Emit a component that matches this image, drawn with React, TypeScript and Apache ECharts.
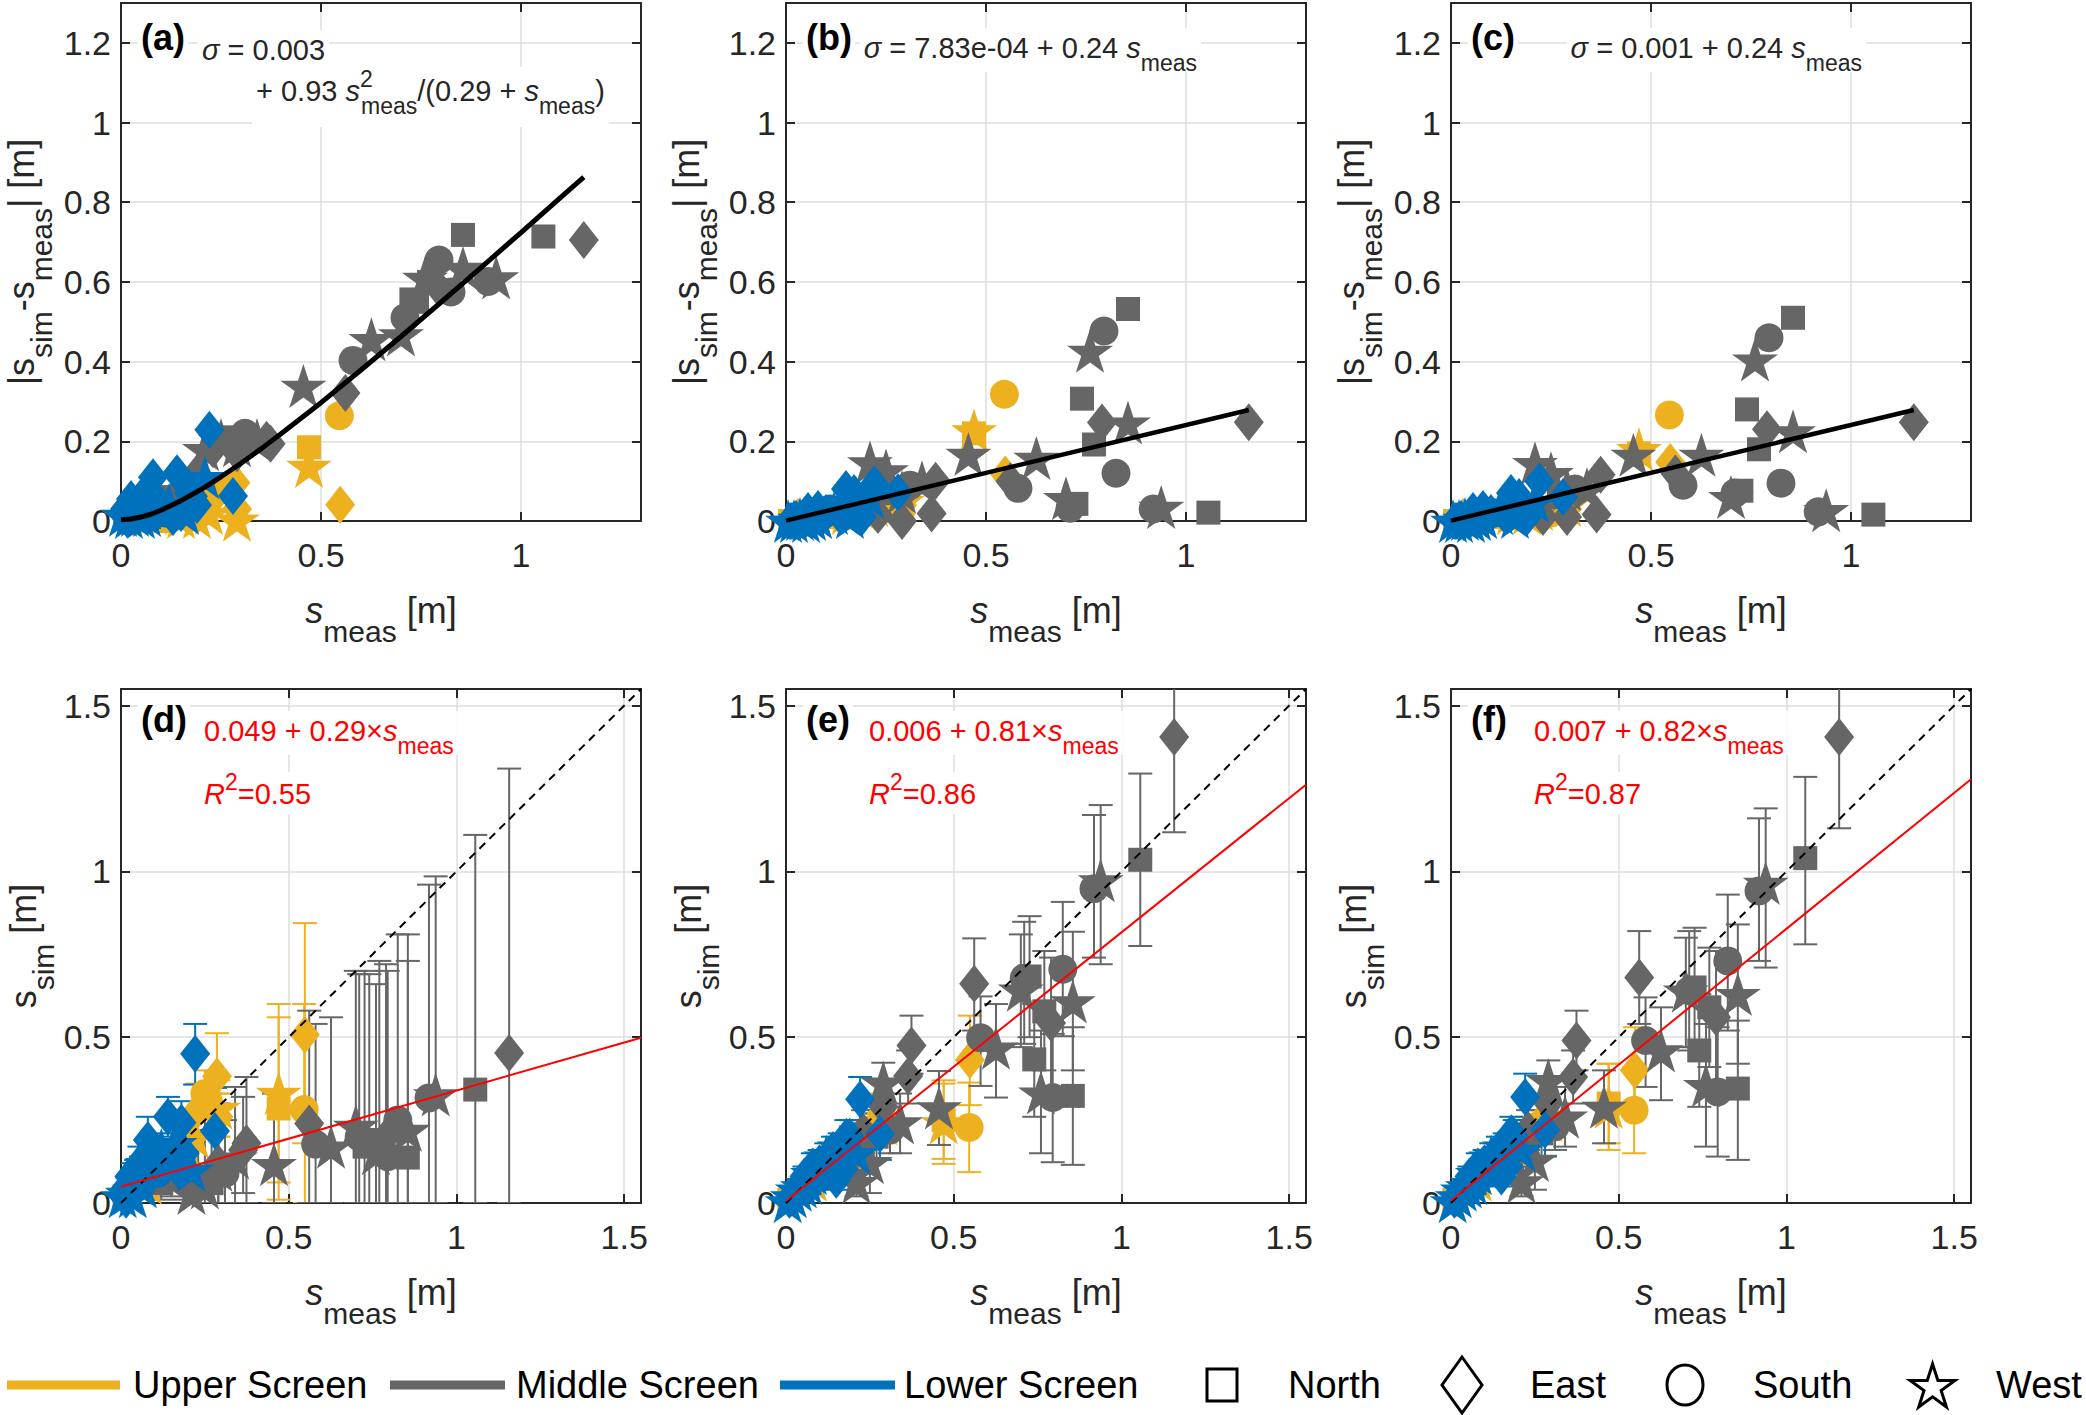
import React, { useEffect, useRef } from 'react';
import * as echarts from 'echarts';

// ---------------- data ----------------
// Station attributes shared by the six panels (U = upper, M = middle, L = lower screen)
const screenOf: string[] = [
  'M','M','M','M','M','M','M','M','M','M',
  'M','M','M','M','M','M','M','M','M','M',
  'M','M','M','M','M','M','M','M','M','M',
  'M','M','U','U','U','U','U','U','U','U',
  'U','U','U','U','U','U','U','U','U','L',
  'L','L','L','L','L','L','L','L','L','L',
  'L','L','L','L','L','L','L','L','L','L',
  'L','L','L','L','L','L','L','L','L',
];
// N = North (square), E = East (diamond), S = South (circle), W = West (star)
const orientOf: string[] = [
  'E','N','S','W','S','W','N','S','W','E',
  'N','N','W','S','N','E','S','W','W','E',
  'E','W','W','W','W','S','N','E','S','N',
  'E','E','E','S','W','N','E','E','W','W',
  'W','E','S','N','S','E','W','N','W','E',
  'E','E','E','E','W','E','W','E','S','W',
  'E','N','W','E','E','S','W','E','E','W',
  'E','E','W','E','E','W','E','E','W',
];
const sMeas: number[] = [
  1.157, 1.056, 0.918, 0.938, 0.825, 0.855, 0.855, 0.795, 0.76, 0.79,
  0.77, 0.74, 0.70, 0.71, 0.726, 0.561, 0.58, 0.626, 0.456, 0.374,
  0.364, 0.34, 0.29, 0.25, 0.21, 0.31, 0.27, 0.23, 0.15, 0.12,
  0.19, 0.29, 0.548, 0.546, 0.47, 0.47, 0.286, 0.226, 0.29, 0.22,
  0.19, 0.29, 0.25, 0.10, 0.05, 0.03, 0.15, 0.01, 0.08, 0.221,
  0.18, 0.28, 0.08, 0.14, 0.21, 0.01, 0.02, 0.03, 0.04, 0.05,
  0.06, 0.07, 0.08, 0.09, 0.10, 0.11, 0.12, 0.13, 0.15, 0.16,
  0.17, 0.19, 0.005, 0.015, 0.025, 0.035, 0.045, 0.055, 0.065,
];
// panels (a)-(c): |s_sim - s_meas|
const absDiffA: number[] = [
  0.705, 0.714, 0.601, 0.611, 0.575, 0.635, 0.718, 0.655, 0.61, 0.59,
  0.60, 0.55, 0.468, 0.51, 0.556, 0.321, 0.403, 0.456, 0.339, 0.194,
  0.204, 0.203, 0.19, 0.203, 0.18, 0.22, 0.21, 0.18, 0.07, 0.06,
  0.12, 0.17, 0.041, 0.264, 0.138, 0.185, 0.096, 0.051, 0.003, 0.02,
  0.01, 0.03, 0.08, 0.00, 0.01, 0.01, 0.01, 0.01, 0.02, 0.229,
  0.062, 0.063, 0.11, 0.12, 0.11, 0.03, 0.01, 0.02, 0.03, 0.01,
  0.04, 0.01, 0.04, 0.02, 0.04, 0.02, 0.04, 0.01, 0.02, 0.02,
  0.07, 0.04, 0.015, 0.005, 0.055, 0.015, 0.045, 0.065, 0.015,
];
const absDiffB: number[] = [
  0.248, 0.021, 0.030, 0.035, 0.120, 0.247, 0.532, 0.477, 0.427, 0.247,
  0.192, 0.307, 0.057, 0.032, 0.043, 0.100, 0.082, 0.158, 0.168, 0.101,
  0.019, 0.097, 0.073, 0.127, 0.147, 0.09, 0.07, 0.015, 0.02, 0.02,
  0.02, 0.00, 0.117, 0.318, 0.227, 0.22, 0.016, 0.026, 0.05, 0.04,
  0.03, 0.04, 0.03, 0.01, 0.00, 0.01, 0.02, 0.00, 0.01, 0.092,
  0.02, 0.072, 0.03, 0.02, 0.06, 0.00, 0.00, 0.00, 0.00, 0.00,
  0.01, 0.01, 0.01, 0.01, 0.02, 0.03, 0.02, 0.02, 0.08, 0.01,
  0.07, 0.01, 0.00, 0.00, 0.005, 0.005, 0.005, 0.025, 0.005,
];
const absDiffC: number[] = [
  0.248, 0.016, 0.023, 0.027, 0.095, 0.225, 0.51, 0.46, 0.405, 0.23,
  0.18, 0.28, 0.06, 0.07, 0.076, 0.119, 0.09, 0.166, 0.166, 0.116,
  0.016, 0.08, 0.08, 0.12, 0.145, 0.08, 0.06, 0.01, 0.02, 0.02,
  0.02, 0.01, 0.148, 0.266, 0.18, 0.17, 0.016, 0.016, 0.04, 0.03,
  0.02, 0.03, 0.02, 0.01, 0.00, 0.01, 0.02, 0.00, 0.01, 0.099,
  0.03, 0.06, 0.03, 0.02, 0.05, 0.00, 0.00, 0.00, 0.00, 0.00,
  0.01, 0.01, 0.01, 0.01, 0.02, 0.02, 0.02, 0.02, 0.07, 0.01,
  0.06, 0.01, 0.00, 0.00, 0.005, 0.005, 0.005, 0.025, 0.005,
];
// panels (d)-(f): s_sim with error bar limits
const simD: number[] = [
  0.452, 0.342, 0.317, 0.327, 0.25, 0.22, 0.137, 0.14, 0.15, 0.20,
  0.17, 0.19, 0.232, 0.20, 0.17, 0.24, 0.177, 0.17, 0.117, 0.18,
  0.16, 0.137, 0.10, 0.047, 0.03, 0.09, 0.06, 0.05, 0.08, 0.06,
  0.07, 0.12, 0.507, 0.282, 0.332, 0.285, 0.382, 0.277, 0.287, 0.20,
  0.18, 0.26, 0.33, 0.10, 0.06, 0.04, 0.14, 0.02, 0.06, 0.45,
  0.242, 0.217, 0.19, 0.26, 0.10, 0.04, 0.03, 0.05, 0.07, 0.06,
  0.10, 0.08, 0.12, 0.11, 0.14, 0.09, 0.16, 0.12, 0.13, 0.18,
  0.10, 0.15, 0.02, 0.01, 0.08, 0.02, 0.09, 0.12, 0.05,
];
const simDLow: number[] = [
  0, 0, 0, 0, 0, 0, 0, 0, 0, 0,
  0, 0, 0, 0, 0, 0, 0, 0, 0, 0,
  0.03, 0, 0, 0, 0, 0, 0, 0, 0.02, 0.01,
  0.01, 0, 0, 0.18, 0.01, 0.062, 0.33, 0.20, 0.20, 0.12,
  0.12, 0.20, 0.26, 0.06, 0.03, 0.02, 0.09, 0, 0.03, 0.357,
  0.18, 0.09, 0.12, 0.20, 0.04, 0.02, 0.01, 0.02, 0.04, 0.03,
  0.06, 0.05, 0.08, 0.07, 0.09, 0.05, 0.11, 0.08, 0.08, 0.12,
  0.05, 0.10, 0, 0, 0.04, 0, 0.05, 0.07, 0.02,
];
const simDHigh: number[] = [
  1.31, 1.11, 0.96, 0.985, 0.81, 0.81, 0.73, 0.70, 0.66, 0.72,
  0.73, 0.69, 0.70, 0.69, 0.70, 0.58, 0.54, 0.56, 0.33, 0.38,
  0.32, 0.35, 0.29, 0.29, 0.20, 0.25, 0.22, 0.20, 0.16, 0.12,
  0.15, 0.30, 0.844, 0.60, 0.60, 0.56, 0.512, 0.36, 0.37, 0.28,
  0.24, 0.33, 0.40, 0.14, 0.09, 0.06, 0.19, 0.04, 0.09, 0.54,
  0.307, 0.347, 0.26, 0.32, 0.16, 0.06, 0.05, 0.08, 0.10, 0.09,
  0.14, 0.11, 0.16, 0.15, 0.19, 0.13, 0.21, 0.16, 0.18, 0.24,
  0.15, 0.20, 0.04, 0.03, 0.12, 0.04, 0.13, 0.17, 0.08,
];
const simE: number[] = [
  1.405, 1.035, 0.948, 0.973, 0.705, 0.608, 0.323, 0.318, 0.333, 0.543,
  0.578, 0.433, 0.643, 0.678, 0.683, 0.661, 0.498, 0.468, 0.288, 0.475,
  0.383, 0.243, 0.363, 0.123, 0.063, 0.22, 0.20, 0.215, 0.13, 0.10,
  0.17, 0.29, 0.431, 0.228, 0.243, 0.25, 0.27, 0.20, 0.24, 0.18,
  0.16, 0.25, 0.22, 0.09, 0.05, 0.02, 0.13, 0.01, 0.07, 0.313,
  0.20, 0.208, 0.11, 0.16, 0.15, 0.01, 0.02, 0.03, 0.04, 0.05,
  0.07, 0.06, 0.09, 0.10, 0.12, 0.08, 0.14, 0.11, 0.07, 0.17,
  0.10, 0.20, 0.005, 0.015, 0.03, 0.04, 0.05, 0.08, 0.06,
];
const simELow: number[] = [
  1.118, 0.775, 0.74, 0.72, 0.503, 0.40, 0.115, 0.123, 0.15, 0.35,
  0.40, 0.26, 0.47, 0.48, 0.50, 0.52, 0.353, 0.318, 0.175, 0.39,
  0.30, 0.15, 0.29, 0.03, 0.02, 0.15, 0.13, 0.15, 0.08, 0.06,
  0.12, 0.22, 0.295, 0.093, 0.118, 0.133, 0.21, 0.15, 0.18, 0.13,
  0.12, 0.20, 0.17, 0.06, 0.03, 0.01, 0.09, 0, 0.04, 0.24,
  0.15, 0.13, 0.07, 0.12, 0.10, 0, 0, 0.01, 0.02, 0.03,
  0.04, 0.04, 0.06, 0.07, 0.08, 0.05, 0.10, 0.08, 0.04, 0.13,
  0.06, 0.15, 0, 0, 0.01, 0.02, 0.03, 0.05, 0.04,
];
const simEHigh: number[] = [
  1.70, 1.295, 1.17, 1.20, 0.908, 0.818, 0.53, 0.51, 0.52, 0.74,
  0.76, 0.60, 0.81, 0.848, 0.865, 0.798, 0.623, 0.60, 0.398, 0.565,
  0.46, 0.33, 0.423, 0.20, 0.12, 0.29, 0.27, 0.28, 0.18, 0.14,
  0.22, 0.36, 0.565, 0.363, 0.37, 0.36, 0.33, 0.25, 0.30, 0.23,
  0.20, 0.30, 0.27, 0.12, 0.07, 0.03, 0.17, 0.02, 0.10, 0.38,
  0.25, 0.28, 0.15, 0.20, 0.20, 0.02, 0.04, 0.05, 0.06, 0.07,
  0.10, 0.08, 0.12, 0.13, 0.16, 0.11, 0.18, 0.14, 0.10, 0.21,
  0.14, 0.25, 0.01, 0.03, 0.05, 0.06, 0.07, 0.11, 0.08,
];
const simF: number[] = [
  1.405, 1.04, 0.941, 0.965, 0.73, 0.63, 0.345, 0.335, 0.355, 0.56,
  0.59, 0.46, 0.64, 0.64, 0.65, 0.68, 0.49, 0.46, 0.29, 0.49,
  0.38, 0.26, 0.37, 0.13, 0.065, 0.23, 0.21, 0.22, 0.13, 0.10,
  0.17, 0.30, 0.40, 0.28, 0.29, 0.30, 0.27, 0.21, 0.25, 0.19,
  0.17, 0.26, 0.23, 0.09, 0.05, 0.02, 0.13, 0.01, 0.07, 0.32,
  0.21, 0.22, 0.11, 0.16, 0.16, 0.01, 0.02, 0.03, 0.04, 0.05,
  0.07, 0.06, 0.09, 0.10, 0.12, 0.09, 0.14, 0.11, 0.08, 0.17,
  0.11, 0.20, 0.005, 0.015, 0.03, 0.04, 0.05, 0.08, 0.06,
];
const simFLow: number[] = [
  1.13, 0.78, 0.73, 0.71, 0.52, 0.42, 0.13, 0.14, 0.17, 0.36,
  0.41, 0.29, 0.47, 0.46, 0.47, 0.54, 0.35, 0.31, 0.18, 0.40,
  0.30, 0.17, 0.30, 0.04, 0.02, 0.16, 0.14, 0.16, 0.08, 0.06,
  0.12, 0.23, 0.27, 0.15, 0.16, 0.18, 0.21, 0.16, 0.19, 0.14,
  0.13, 0.21, 0.18, 0.06, 0.03, 0.01, 0.09, 0, 0.04, 0.25,
  0.16, 0.14, 0.07, 0.12, 0.11, 0, 0, 0.01, 0.02, 0.03,
  0.04, 0.04, 0.06, 0.07, 0.08, 0.06, 0.10, 0.08, 0.05, 0.13,
  0.07, 0.15, 0, 0, 0.01, 0.02, 0.03, 0.05, 0.04,
];
const simFHigh: number[] = [
  1.70, 1.285, 1.16, 1.19, 0.93, 0.84, 0.55, 0.53, 0.54, 0.76,
  0.77, 0.63, 0.80, 0.82, 0.83, 0.82, 0.62, 0.59, 0.40, 0.58,
  0.46, 0.35, 0.43, 0.21, 0.12, 0.30, 0.28, 0.28, 0.18, 0.14,
  0.22, 0.37, 0.53, 0.41, 0.42, 0.42, 0.33, 0.26, 0.31, 0.24,
  0.21, 0.31, 0.28, 0.12, 0.07, 0.03, 0.17, 0.02, 0.10, 0.39,
  0.26, 0.30, 0.15, 0.20, 0.21, 0.02, 0.04, 0.05, 0.06, 0.07,
  0.10, 0.08, 0.12, 0.13, 0.16, 0.12, 0.18, 0.14, 0.11, 0.21,
  0.15, 0.25, 0.01, 0.03, 0.05, 0.06, 0.07, 0.11, 0.08,
];
// fitted curves / lines
const curveAX: number[] = [0, 0.025, 0.05, 0.075, 0.1, 0.15, 0.2, 0.25, 0.3, 0.35, 0.4, 0.45, 0.5, 0.6, 0.7, 0.8, 0.9, 1.0, 1.1, 1.157];
const curveAY: number[] = [0.003, 0.005, 0.010, 0.017, 0.027, 0.051, 0.079, 0.111, 0.145, 0.181, 0.219, 0.258, 0.297, 0.379, 0.463, 0.549, 0.636, 0.724, 0.813, 0.863];
const lineB: number[][] = [[0, 0.0008], [1.157, 0.2785]];
const lineC: number[][] = [[0, 0.001], [1.157, 0.2787]];
const fitD: number[][] = [[0, 0.049], [1.55, 0.4985]];
const fitE: number[][] = [[0, 0.006], [1.55, 1.2615]];
const fitF: number[][] = [[0, 0.007], [1.55, 1.278]];
const oneToOne: number[][] = [[0, 0], [1.55, 1.55]];
// texts
const panelLabels = ['(a)', '(b)', '(c)', '(d)', '(e)', '(f)'];
const sigmaTexts = [
  ['{g|σ} = 0.003', '+ 0.93 {i|s}{supz|2}{sub|meas}/(0.29 + {i|s}{sub|meas})'],
  ['{g|σ} = 7.83e-04 + 0.24 {i|s}{sub|meas}'],
  ['{g|σ} = 0.001 + 0.24 {i|s}{sub|meas}'],
];
const fitTexts = ['0.049 + 0.29×{i|s}{sub|meas}', '0.006 + 0.81×{i|s}{sub|meas}', '0.007 + 0.82×{i|s}{sub|meas}'];
const r2Texts = ['{i|R}{sup|2}=0.55', '{i|R}{sup|2}=0.86', '{i|R}{sup|2}=0.87'];
const screenNames = ['Upper Screen', 'Middle Screen', 'Lower Screen'];
const orientNames = ['North', 'East', 'South', 'West'];

// ---------------- styling ----------------
const FONT = '"Liberation Sans", Arial, Helvetica, sans-serif';
const AXIS_COLOR = '#262626';
const GRID_COLOR = '#dedede';
const RED = '#ff0000';
const COLORS: Record<string, string> = { U: '#EDB120', M: '#666666', L: '#0072BD' };
const STAR_PTS = [[50, 0], [61.23, 34.55], [97.55, 34.55], [68.16, 55.9], [79.39, 90.45], [50, 69.1], [20.61, 90.45], [31.84, 55.9], [2.45, 34.55], [38.77, 34.55]];
const STAR_PATH = 'path://' + STAR_PTS.map((p, k) => (k ? 'L' : 'M') + p[0] + ' ' + p[1]).join('') + 'Z';
const SYMBOLS: Record<string, string> = { N: 'rect', E: 'diamond', S: 'circle', W: STAR_PATH };
const SIZES: Record<string, number[]> = { N: [24, 24], E: [30, 38], S: [29, 29], W: [46, 44] };
const LEFTS = [121, 786, 1451];
const PW = 520;
const TOPS = [3, 689];
const HEIGHTS = [518, 514];
const AXMAX = [1.3, 1.55];
const YSTEP = [0.2, 0.5];

function fmt(step: number) {
  return (v: number) => {
    const k = v / step;
    return Math.abs(k - Math.round(k)) < 1e-6 ? String(Number(v.toFixed(2))) : '';
  };
}

function richSet(size: number, sub: number, fill: string, subShiftH: number, supH: number) {
  return {
    i: { fontStyle: 'italic', fontSize: size, fontFamily: FONT, fill },
    g: { fontStyle: 'italic', fontSize: size, fontFamily: FONT, fill },
    sub: { fontSize: sub, fontFamily: FONT, fill, verticalAlign: 'bottom', height: subShiftH },
    sup: { fontSize: sub, fontFamily: FONT, fill, verticalAlign: 'top', height: supH },
    supz: { fontSize: sub, fontFamily: FONT, fill, verticalAlign: 'top', height: supH, width: 1 },
  };
}

function errRender(color: string) {
  return (params: any, api: any) => {
    const x = api.value(0);
    const p1 = api.coord([x, api.value(1)]);
    const p2 = api.coord([x, api.value(2)]);
    const cw = 12;
    const st = { stroke: color, lineWidth: 2 };
    return {
      type: 'group',
      children: [
        { type: 'line', shape: { x1: p1[0], y1: p1[1], x2: p2[0], y2: p2[1] }, style: st },
        { type: 'line', shape: { x1: p1[0] - cw, y1: p1[1], x2: p1[0] + cw, y2: p1[1] }, style: st },
        { type: 'line', shape: { x1: p2[0] - cw, y1: p2[1], x2: p2[0] + cw, y2: p2[1] }, style: st },
      ],
    };
  };
}

function buildOption() {
  const panels = [
    { y: absDiffA }, { y: absDiffB }, { y: absDiffC },
    { y: simD, lo: simDLow, hi: simDHigh }, { y: simE, lo: simELow, hi: simEHigh }, { y: simF, lo: simFLow, hi: simFHigh },
  ] as { y: number[]; lo?: number[]; hi?: number[] }[];
  const grid: any[] = [], xAxis: any[] = [], yAxis: any[] = [], series: any[] = [], graphic: any[] = [];
  const line = (w: number) => ({ show: true, onZero: false, lineStyle: { color: AXIS_COLOR, width: w } });
  const tick = { show: true, inside: true, length: 9, lineStyle: { color: AXIS_COLOR, width: 2 } };
  const labelStyle = { fontSize: 34, fontFamily: FONT, color: AXIS_COLOR };

  panels.forEach((p, i) => {
    const row = i < 3 ? 0 : 1;
    const col = i % 3;
    const left = LEFTS[col];
    const top = TOPS[row];
    const mx = AXMAX[row];
    grid.push({ left, top, width: PW, height: HEIGHTS[row], containLabel: false, show: false });
    const base = { type: 'value', gridIndex: i, min: 0, max: mx };
    xAxis.push({ ...base, interval: 0.5, position: 'bottom', axisLine: line(2), axisTick: tick,
      axisLabel: { ...labelStyle, margin: 17, formatter: fmt(0.5) },
      splitLine: { show: true, lineStyle: { color: GRID_COLOR, width: 1.5 } } });
    xAxis.push({ ...base, interval: 0.5, position: 'top', axisLine: line(2), axisTick: tick,
      axisLabel: { show: false }, splitLine: { show: false } });
    yAxis.push({ ...base, interval: YSTEP[row], position: 'left', axisLine: line(2), axisTick: tick,
      axisLabel: { ...labelStyle, margin: 10, formatter: fmt(YSTEP[row]) },
      splitLine: { show: true, lineStyle: { color: GRID_COLOR, width: 1.5 } } });
    yAxis.push({ ...base, interval: YSTEP[row], position: 'right', axisLine: line(2), axisTick: tick,
      axisLabel: { show: false }, splitLine: { show: false } });
    const xi = 2 * i, yi = 2 * i;
    const idx = sMeas.map((_, k) => k);
    ['U', 'M', 'L'].forEach((scr) => {
      if (p.lo && p.hi) {
        series.push({
          type: 'custom', name: panelLabels[i] + ' ' + scr + ' error', xAxisIndex: xi, yAxisIndex: yi,
          clip: true, z: 2, silent: true,
          encode: { x: 0, y: [1, 2] },
          data: idx.filter((k) => screenOf[k] === scr).map((k) => [sMeas[k], p.lo![k], p.hi![k]]),
          renderItem: errRender(COLORS[scr]),
        });
      }
    });
    ['U', 'M', 'L'].forEach((scr) => {
      ['N', 'E', 'S', 'W'].forEach((ori) => {
        const data = idx.filter((k) => screenOf[k] === scr && orientOf[k] === ori).map((k) => [sMeas[k], p.y[k]]);
        if (!data.length) return;
        series.push({
          type: 'scatter', name: panelLabels[i] + ' ' + scr + ori, xAxisIndex: xi, yAxisIndex: yi,
          symbol: SYMBOLS[ori], symbolSize: SIZES[ori], itemStyle: { color: COLORS[scr], opacity: 1 },
          clip: false, z: 3, silent: true, data,
        });
      });
    });
    const addLine = (data: number[][], color: string, width: number, type: any = 'solid') =>
      series.push({ type: 'line', xAxisIndex: xi, yAxisIndex: yi, data, symbol: 'none', showSymbol: false,
        lineStyle: { color, width, type }, z: 4, silent: true, clip: true });
    if (i === 0) addLine(curveAX.map((x, k) => [x, curveAY[k]]), '#000', 5);
    if (i === 1) addLine(lineB, '#000', 4.5);
    if (i === 2) addLine(lineC, '#000', 4.5);
    if (i >= 3) {
      addLine(oneToOne, '#000', 2, [8, 6]);
      addLine([fitD, fitE, fitF][i - 3], RED, 2);
    }

    // panel label
    graphic.push({ type: 'text', z: 100, x: left + 17, y: top + (row ? 30 : 34),
      style: { text: panelLabels[i], fontSize: 36, fontWeight: 'bold', fontFamily: FONT, fill: '#000',
        align: 'left', verticalAlign: 'middle', backgroundColor: '#fff', padding: [1, 3] } });
    // x title
    graphic.push({ type: 'text', z: 100, x: left + PW / 2, y: top + HEIGHTS[row] + 89,
      style: { text: '{i|s}{sub|meas} [m]', fontSize: 36, fontFamily: FONT, fill: AXIS_COLOR, lineHeight: 44,
        align: 'center', verticalAlign: 'middle', rich: richSet(36, 30, AXIS_COLOR, 2, 8) } });
    // y title
    graphic.push({ type: 'text', z: 100, x: left - 121 + (row ? 23 : 21), y: top + HEIGHTS[row] / 2, rotation: Math.PI / 2,
      style: { text: row ? 's{sub|sim} [m]' : '|s{sub|sim}-s{sub|meas}| [m]', fontSize: 36, fontFamily: FONT, fill: AXIS_COLOR,
        lineHeight: 40, align: 'center', verticalAlign: 'middle', rich: richSet(36, 30, AXIS_COLOR, 0, 8) } });

    if (row === 0) {
      const lines = sigmaTexts[col];
      if (col === 0) {
        graphic.push({ type: 'text', z: 100, x: left + 77, y: 50,
          style: { text: lines[0], fontSize: 29, fontFamily: FONT, fill: AXIS_COLOR, lineHeight: 36, align: 'left', verticalAlign: 'middle',
            backgroundColor: '#fff', padding: [2, 4], rich: richSet(29, 23, AXIS_COLOR, 6, 12) } });
        graphic.push({ type: 'text', z: 100, x: left + 131, y: 97,
          style: { text: lines[1], fontSize: 29, fontFamily: FONT, fill: AXIS_COLOR, lineHeight: 36, align: 'left', verticalAlign: 'middle',
            backgroundColor: '#fff', padding: [6, 4, 18, 4], rich: richSet(29, 23, AXIS_COLOR, 6, 12) } });
      } else {
        graphic.push({ type: 'text', z: 100, x: left + 415, y: 50,
          style: { text: lines[0], fontSize: 29, fontFamily: FONT, fill: AXIS_COLOR, lineHeight: 36, align: 'right', verticalAlign: 'middle',
            backgroundColor: '#fff', padding: [2, 4, 6, 4], rich: richSet(29, 23, AXIS_COLOR, 6, 12) } });
      }
    } else {
      graphic.push({ type: 'text', z: 100, x: left + 79, y: 733,
        style: { text: fitTexts[col], fontSize: 29, fontFamily: FONT, fill: RED, lineHeight: 36, align: 'left', verticalAlign: 'middle',
          backgroundColor: '#fff', padding: [2, 4, 6, 4], rich: richSet(29, 23, RED, 6, 12) } });
      graphic.push({ type: 'text', z: 100, x: left + 79, y: 793,
        style: { text: r2Texts[col], fontSize: 29, fontFamily: FONT, fill: RED, lineHeight: 36, align: 'left', verticalAlign: 'middle',
          backgroundColor: '#fff', padding: [4, 4, 2, 4], rich: richSet(29, 23, RED, 6, 12) } });
    }
  });

  // legend
  const ly = 1385;
  const lineX = [[7, 120], [390, 505], [780, 895]];
  const textX = [133, 516, 904];
  ['U', 'M', 'L'].forEach((scr, k) => {
    graphic.push({ type: 'rect', z: 100, shape: { x: lineX[k][0], y: ly - 4.5, width: lineX[k][1] - lineX[k][0], height: 9 }, style: { fill: COLORS[scr] } });
    graphic.push({ type: 'text', z: 100, x: textX[k], y: ly,
      style: { text: screenNames[k], fontSize: 38, fontFamily: FONT, fill: '#000', align: 'left', verticalAlign: 'middle' } });
  });
  const ms = { fill: 'none', stroke: '#000', lineWidth: 3 };
  graphic.push({ type: 'rect', z: 100, shape: { x: 1207, y: ly - 16, width: 30, height: 32 }, style: ms });
  graphic.push({ type: 'polygon', z: 100, shape: { points: [[1462, ly - 28], [1482, ly], [1462, ly + 28], [1442, ly]] }, style: ms });
  graphic.push({ type: 'ellipse', z: 100, shape: { cx: 1685, cy: ly, rx: 18, ry: 20 }, style: ms });
  graphic.push({ type: 'polygon', z: 100, shape: { points: STAR_PTS.map((pt) => [1909 + pt[0] * 46 / 97.55, ly - 21 + pt[1] * 43 / 90.45]) }, style: ms });
  const oriTextX = [1288, 1530, 1753, 1996];
  orientNames.forEach((nm, k) => {
    graphic.push({ type: 'text', z: 100, x: oriTextX[k], y: ly,
      style: { text: nm, fontSize: 38, fontFamily: FONT, fill: '#000', align: 'left', verticalAlign: 'middle' } });
  });

  return {
    animation: false,
    backgroundColor: '#ffffff',
    textStyle: { fontFamily: FONT },
    grid, xAxis, yAxis, series, graphic,
  };
}

export default function App() {
  const ref = useRef<HTMLDivElement>(null);
  useEffect(() => {
    document.body.style.margin = '0';
    const chart = echarts.init(ref.current!, null, { renderer: 'svg', width: 2086, height: 1415 });
    chart.setOption(buildOption() as any);
    return () => chart.dispose();
  }, []);
  return <div ref={ref} style={{ position: 'absolute', left: 0, top: 0, width: 2086, height: 1415, background: '#fff' }} />;
}
